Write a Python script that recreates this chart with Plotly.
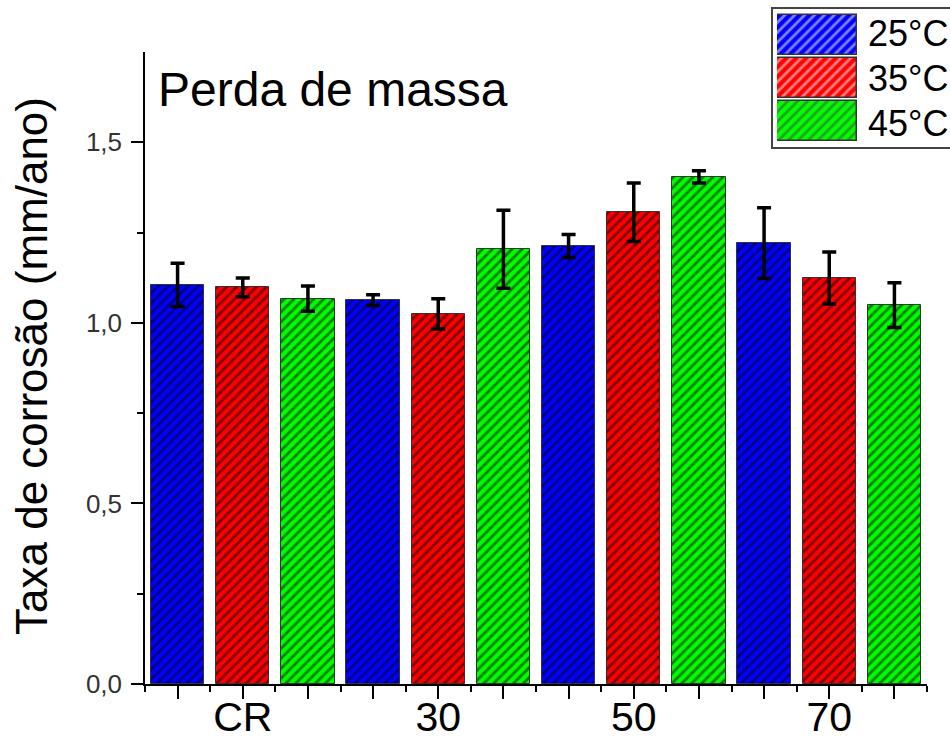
import plotly.graph_objects as go

categories = ["CR", "30", "50", "70"]
series_names = ["25°C", "35°C", "45°C"]
series_colors = ["#0000FF", "#FF0000", "#00FF00"]
v25 = [1.105, 1.063, 1.213, 1.221]
e25 = [0.060, 0.015, 0.032, 0.098]
v35 = [1.098, 1.025, 1.306, 1.124]
e35 = [0.026, 0.042, 0.081, 0.072]
v45 = [1.067, 1.204, 1.404, 1.049]
e45 = [0.035, 0.108, 0.017, 0.062]
y_tickvals = [0, 0.5, 1.0, 1.5]
y_ticktext = ["0,0", "0,5", "1,0", "1,5"]
title_text = "Perda de massa"
y_title = "Taxa de corrosão (mm/ano)"

values = [v25, v35, v45]
errors = [e25, e35, e45]
nser = len(series_names)
ncat = len(categories)

FONT = "Liberation Sans, Arial, sans-serif"
W, H = 950, 740
ML, MB = 145, 56
PW, PH = W - ML, H - MB

def px_x(p):
    return (p - ML) / PW

def px_y(p):
    return (PH - p) / PH

PATTERN = dict(shape="/", fgcolor="black", size=7, solidity=0.4)

fig = go.Figure()
for s in range(nser):
    xs = [g * nser + s + 1 for g in range(ncat)]
    fig.add_trace(go.Bar(
        x=xs, y=values[s], name=series_names[s], width=0.82,
        marker=dict(color=series_colors[s], line=dict(color="#333333", width=1),
                    pattern=PATTERN),
        error_y=dict(type="data", array=errors[s], visible=True, color="black",
                     thickness=3.5, width=7),
        showlegend=False,
    ))

# legend swatches drawn as bars on a small inset axis
fig.add_trace(go.Bar(
    x=[1] * nser, y=list(range(nser)), orientation="h", width=0.923,
    xaxis="x2", yaxis="y2", showlegend=False, hoverinfo="skip",
    marker=dict(color=series_colors, line=dict(color="#333333", width=1.5),
                pattern=PATTERN),
))

npos = ncat * nser
major_vals = list(range(1, npos + 1))
major_text = [""] * npos
for g, c in enumerate(categories):
    major_text[g * nser + nser // 2] = c
minor_vals = [i + 0.5 for i in range(npos + 1)]

fig.update_layout(
    width=W, height=H,
    margin=dict(l=ML, r=0, t=0, b=MB, autoexpand=False),
    plot_bgcolor="white", paper_bgcolor="white",
    font=dict(family=FONT, color="black"),
    bargap=0,
    xaxis=dict(domain=[0, 782 / PW], range=[0.5, npos + 0.5], showgrid=False, zeroline=False,
               automargin=False,
               showline=True, linecolor="black", linewidth=1.5,
               tickmode="array", tickvals=major_vals, ticktext=major_text,
               ticks="outside", ticklen=13, tickwidth=1.5, tickcolor="black",
               ticklabelstandoff=-17,
               tickfont=dict(size=41, color="black", family=FONT),
               minor=dict(tickvals=minor_vals, ticks="outside", ticklen=6,
                          tickwidth=1.5, tickcolor="black")),
    yaxis=dict(domain=[0, 632 / PH], range=[0, 1.75], showgrid=False, zeroline=False,
               automargin=False,
               showline=True, linecolor="black", linewidth=1.5,
               tickmode="array", tickvals=y_tickvals, ticktext=y_ticktext,
               ticks="outside", ticklen=12, tickwidth=1.5, tickcolor="black",
               ticklabelstandoff=4,
               tickfont=dict(size=26, color="#333333", family=FONT),
               minor=dict(tickvals=[0.25, 0.75, 1.25], ticks="outside", ticklen=6,
                          tickwidth=1.5, tickcolor="black")),
    xaxis2=dict(domain=[px_x(777), px_x(857)], range=[0, 1], visible=False, anchor="y2"),
    yaxis2=dict(domain=[px_y(143), px_y(13)], range=[nser - 0.5, -0.5], visible=False, anchor="x2"),
)

# legend frame
fig.add_shape(type="rect", xref="paper", yref="paper",
              x0=px_x(772), x1=px_x(965), y0=px_y(148), y1=px_y(8),
              line=dict(color="#444444", width=2), fillcolor="rgba(0,0,0,0)", layer="below")

swatch_centers = [33.5, 78.5, 123]
for name, cy in zip(series_names, swatch_centers):
    fig.add_annotation(text=name, x=px_x(866), y=px_y(cy), xref="paper", yref="paper",
                       xanchor="left", yanchor="middle", showarrow=False,
                       font=dict(size=36, color="black", family=FONT))

fig.add_annotation(text=title_text, x=px_x(156), y=px_y(89), xref="paper", yref="paper",
                   xanchor="left", yanchor="middle", showarrow=False,
                   font=dict(size=48, color="black", family=FONT))

fig.add_annotation(text=y_title, x=px_x(31), y=px_y(366), xref="paper", yref="paper",
                   xanchor="center", yanchor="middle", showarrow=False, textangle=-90,
                   font=dict(size=44, color="black", family=FONT))

fig.write_html("out.html")
